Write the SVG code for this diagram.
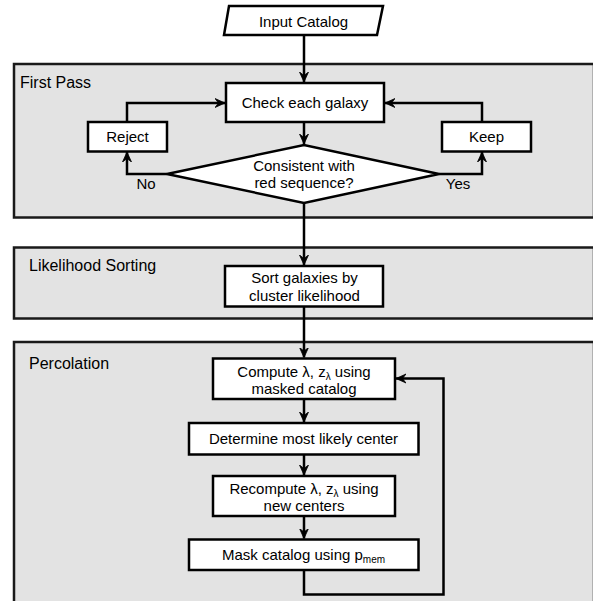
<svg xmlns="http://www.w3.org/2000/svg" width="593" height="601" viewBox="0 0 593 601">
<defs>
<marker id="arr" markerUnits="userSpaceOnUse" markerWidth="11" markerHeight="11" viewBox="0 0 11 11" refX="10" refY="5.5" orient="auto">
<path d="M0,1 L10,5.5 L0,10 L3.5,5.5 z" fill="#000" stroke="#000" stroke-width="0.8" stroke-linejoin="miter"/>
</marker>
<style>
.panel{fill:#e3e3e3;stroke:#1a1a1a;stroke-width:2.5}
.box{fill:#fff;stroke:#000;stroke-width:2.5}
.ln{fill:none;stroke:#000;stroke-width:2.5}
.t{font-family:"Liberation Sans",Arial,Helvetica,sans-serif;font-size:15px;fill:#000;text-anchor:middle}
.pl{font-family:"Liberation Sans",Arial,Helvetica,sans-serif;font-size:16px;fill:#000}
.sub{font-size:10px}
</style>
</defs>
<g id="panels">
<g id="first-pass"><rect class="panel" x="14" y="64" width="580" height="153.5"/><text class="pl" x="20" y="88">First Pass</text></g>
<g id="likelihood-sorting"><rect class="panel" x="14" y="247.5" width="580" height="71"/><text class="pl" x="29" y="270.5">Likelihood Sorting</text></g>
<g id="percolation"><rect class="panel" x="14" y="342" width="580" height="265"/><text class="pl" x="29" y="369">Percolation</text></g>
</g>
<g id="connectors">
<line class="ln" x1="304" y1="35" x2="304" y2="82" marker-end="url(#arr)"/>
<line class="ln" x1="304" y1="122" x2="304" y2="144" marker-end="url(#arr)"/>
<polyline class="ln" points="167,174 127,174 127,152" marker-end="url(#arr)"/>
<polyline class="ln" points="127,122 127,103 225,103" marker-end="url(#arr)"/>
<polyline class="ln" points="439,174 482,174 482,152" marker-end="url(#arr)"/>
<polyline class="ln" points="482,122 482,103 385,103" marker-end="url(#arr)"/>
<line class="ln" x1="304" y1="203" x2="304" y2="265" marker-end="url(#arr)"/>
<line class="ln" x1="304" y1="306.5" x2="304" y2="357.5" marker-end="url(#arr)"/>
<line class="ln" x1="304" y1="399" x2="304" y2="422" marker-end="url(#arr)"/>
<line class="ln" x1="304" y1="454.5" x2="304" y2="475" marker-end="url(#arr)"/>
<line class="ln" x1="304" y1="516" x2="304" y2="538.5" marker-end="url(#arr)"/>
<polyline class="ln" points="304,570 304,594.5 443.5,594.5 443.5,378.5 396,378.5" marker-end="url(#arr)"/>
</g>
<g id="input-catalog"><polygon class="box" points="229,6 383,6 377,35 224,35"/><text class="t" x="303.5" y="26.5">Input Catalog</text></g>
<g id="check-each-galaxy"><rect class="box" x="226" y="83" width="158" height="39"/><text class="t" x="305" y="108">Check each galaxy</text></g>
<g id="reject"><rect class="box" x="88" y="122" width="79" height="29.5"/><text class="t" x="127.5" y="142">Reject</text></g>
<g id="keep"><rect class="box" x="442" y="122" width="89" height="29.5"/><text class="t" x="486.5" y="142">Keep</text></g>
<g id="decision"><polygon class="box" points="167,174 304,145 439,174 304,203"/><text class="t" x="304" y="171">Consistent with</text><text class="t" x="304" y="188">red sequence?</text></g>
<g id="labels"><text class="t" x="146" y="188.5">No</text><text class="t" x="458" y="188.5">Yes</text></g>
<g id="sort"><rect class="box" x="225" y="266" width="158" height="40.5"/><text class="t" x="304.5" y="283">Sort galaxies by</text><text class="t" x="304.5" y="300.5">cluster likelihood</text></g>
<g id="compute"><rect class="box" x="213" y="358.5" width="182" height="40.5"/><text class="t" x="304" y="376.5">Compute λ, z<tspan class="sub" dy="3">λ</tspan><tspan dy="-3"> using</tspan></text><text class="t" x="304" y="394">masked catalog</text></g>
<g id="determine"><rect class="box" x="189" y="423" width="229.5" height="31.5"/><text class="t" x="303.5" y="443.5">Determine most likely center</text></g>
<g id="recompute"><rect class="box" x="213" y="476" width="182" height="40"/><text class="t" x="304" y="493.5">Recompute λ, z<tspan class="sub" dy="3">λ</tspan><tspan dy="-3"> using</tspan></text><text class="t" x="304" y="511">new centers</text></g>
<g id="mask"><rect class="box" x="189" y="539.5" width="229.5" height="30.5"/><text class="t" x="303.5" y="560">Mask catalog using p<tspan class="sub" dy="3">mem</tspan></text></g>
</svg>
